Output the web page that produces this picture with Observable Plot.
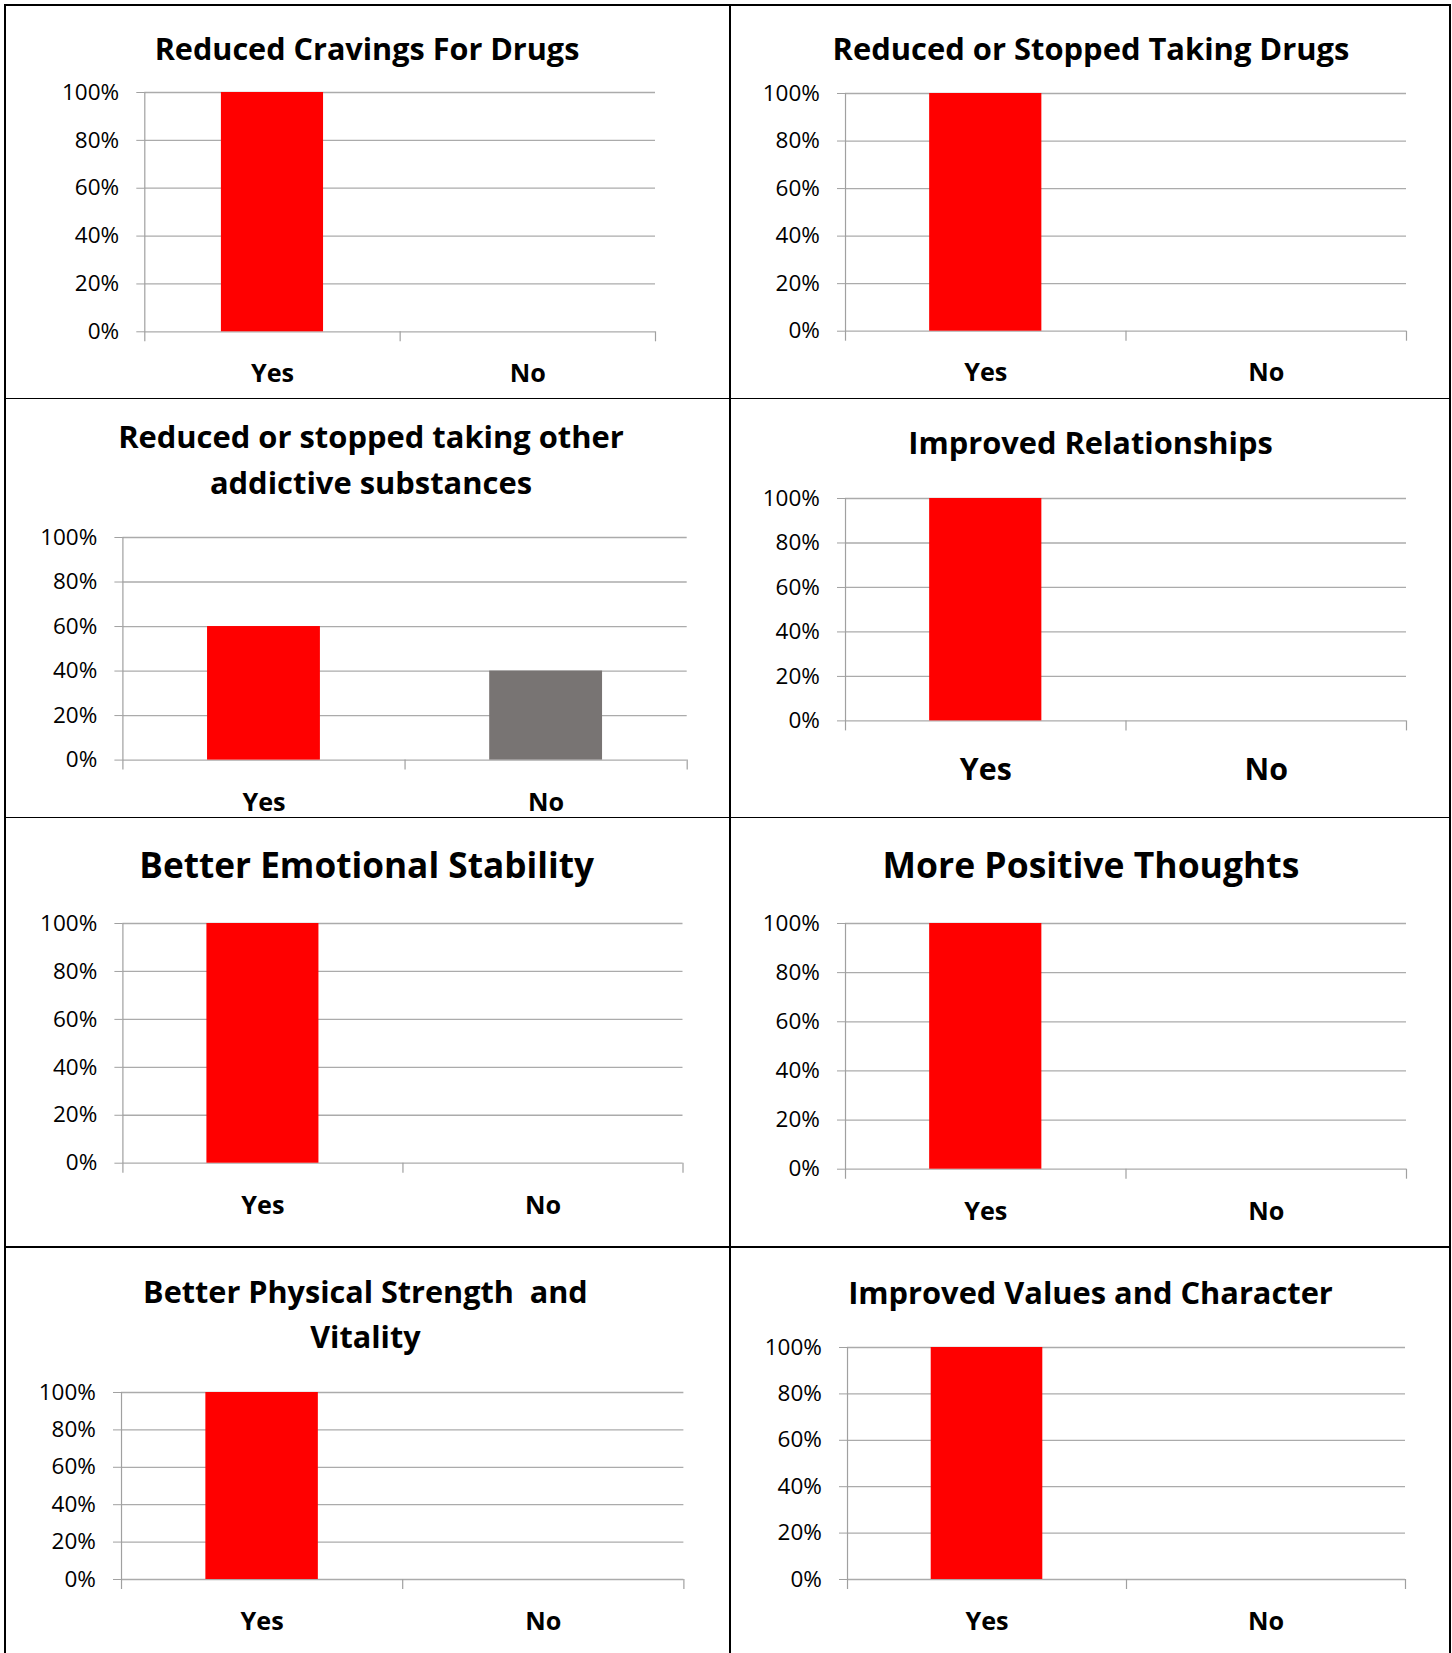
<!DOCTYPE html>
<html>
<head>
<meta charset="utf-8">
<script src="https://cdn.jsdelivr.net/npm/d3@7"></script>
<script src="https://cdn.jsdelivr.net/npm/@observablehq/plot@0.6"></script>
<style>
  html, body { margin: 0; padding: 0; background: #fff; }
  #page { position: relative; width: 1452px; height: 1653px; overflow: hidden; font-family: "Open Sans", sans-serif; background: #fff; }
  .title { position: absolute; font-weight: 700; color: #000; white-space: pre; text-align: center; width: 800px; }
  .rule { position: absolute; background: #000; }
  .chart { position: absolute; }
</style>
</head>
<body>
<div id="page"></div>
<script>
// ---------------- data ----------------
const categories = ["Yes", "No"];
const titles = [
  ["Reduced Cravings For Drugs"],
  ["Reduced or Stopped Taking Drugs"],
  ["Reduced or stopped taking other", "addictive substances"],
  ["Improved Relationships"],
  ["Better Emotional Stability"],
  ["More Positive Thoughts"],
  ["Better Physical Strength  and", "Vitality"],
  ["Improved Values and Character"]
];
const yesShare = [1, 1, 0.6, 1, 1, 1, 1, 1];
const noShare  = [0, 0, 0.4, 0, 0, 0, 0, 0];
const yTicks = [0, 0.2, 0.4, 0.6, 0.8, 1];
const yTickLabels = ["0%", "20%", "40%", "60%", "80%", "100%"];
const categoryColors = ["#ff0000", "#787473"];

// ---------------- layout (page pixels) ----------------
const cells = [{x0: 6, w: 723}, {x0: 731, w: 718}];
const frames = [
  {col: 0, L: 144.3, R: 655,   T: 91.7,   B: 331,    tx: 367,    tb: 61,     tfs: 30.6, tlh: 45.7, lb: 380.7,  lfs: 25.2},
  {col: 1, L: 845,   R: 1406,  T: 93.3,   B: 331,    tx: 1091,   tb: 61,     tfs: 30.9, tlh: 45.7, lb: 380.7,  lfs: 25.2},
  {col: 0, L: 122.4, R: 686.7, T: 536.7,  B: 759.3,  tx: 371,    tb: 449.3,  tfs: 30.9, tlh: 45.7, lb: 810,    lfs: 25.2},
  {col: 1, L: 845,   R: 1406,  T: 498.3,  B: 720.7,  tx: 1090.5, tb: 455,    tfs: 30.8, tlh: 45.7, lb: 780,    lfs: 30.4},
  {col: 0, L: 122.4, R: 682.5, T: 923.3,  B: 1163,   tx: 366.6,  tb: 878.3,  tfs: 35.2, tlh: 45.7, lb: 1213.3, lfs: 25.2},
  {col: 1, L: 845,   R: 1406,  T: 923.3,  B: 1169,   tx: 1091,   tb: 878.3,  tfs: 35.5, tlh: 45.7, lb: 1220,   lfs: 25.2},
  {col: 0, L: 121,   R: 683.4, T: 1392.3, B: 1579.3, tx: 365.4,  tb: 1303.3, tfs: 30.6, tlh: 45,   lb: 1630,   lfs: 25.2},
  {col: 1, L: 847,   R: 1405,  T: 1347.3, B: 1579.3, tx: 1090.5, tb: 1304,   tfs: 30.8, tlh: 45,   lb: 1630,   lfs: 25.2}
];
const gridColor = "#ababab";
const axisColor = "#a0a0a0";
const yFont = 22.5;

const page = document.getElementById("page");

// cell borders
function rule(x, y, w, h) {
  const d = document.createElement("div");
  d.className = "rule";
  Object.assign(d.style, {left: x + "px", top: y + "px", width: w + "px", height: h + "px"});
  page.appendChild(d);
}
rule(4, 4, 1447, 2);
rule(4, 4, 2, 1649);
rule(729, 4, 2, 1649);
rule(1449, 4, 2, 1649);
rule(4, 397.6, 1447, 1.5);
rule(4, 816.8, 1447, 1.5);
rule(4, 1246, 1447, 1.5);

// Open Sans vertical metrics (em)
const ASC = 1.069, CONTENT = 1.362;

frames.forEach((f, i) => {
  // title
  const t = document.createElement("div");
  t.className = "title";
  const lines = titles[i];
  const lh = f.tlh;
  t.style.fontSize = f.tfs + "px";
  t.style.lineHeight = lh + "px";
  t.style.left = (f.tx - 400) + "px";
  t.style.top = (f.tb - ((lh - CONTENT * f.tfs) / 2 + ASC * f.tfs)) + "px";
  t.textContent = lines.join("\n");
  page.appendChild(t);

  // chart
  const cell = cells[f.col];
  const mt = 15;
  const mb = (f.lb - f.B) + 15;
  const width = cell.w;
  const height = mt + (f.B - f.T) + mb;
  const mL = f.L - cell.x0;
  const mR = cell.x0 + cell.w - f.R;
  const quarter = (f.R - f.L) / 4;
  const data = categories.map((c, j) => ({category: c, share: j === 0 ? yesShare[i] : noShare[i]}));

  const svg = Plot.plot({
    width, height,
    marginLeft: mL, marginRight: mR, marginTop: mt, marginBottom: mb,
    style: {fontFamily: "'Open Sans', sans-serif", background: "transparent", overflow: "visible", color: "#000"},
    x: {type: "band", domain: categories, paddingInner: 0.6, paddingOuter: 0.3, align: 0.5, round: false},
    y: {domain: [0, 1]},
    color: {domain: categories, range: categoryColors},
    marks: [
      Plot.ruleY(yTicks, {stroke: gridColor, strokeWidth: 1.3}),
      Plot.barY(data, {x: "category", y: "share", fill: "category"}),
      // vertical axis line (extends down as the first category-boundary tick)
      Plot.ruleX([categories[0]], {x: d => d, y1: 1, y2: 0, dx: -quarter, insetBottom: -10, stroke: axisColor, strokeWidth: 1.2}),
      // category boundary ticks
      Plot.ruleX(categories, {x: d => d, y1: 0, y2: 0, dx: quarter, insetBottom: -10, stroke: axisColor, strokeWidth: 1.2}),
      Plot.axisY(yTicks, {
        tickSize: 8, tickPadding: 17.6, stroke: axisColor, fill: "#000",
        fontSize: yFont, label: null,
        tickFormat: d => yTickLabels[yTicks.indexOf(d)]
      }),
      Plot.axisX({
        tickSize: 0, tickPadding: (f.lb - f.B) - 0.71 * f.lfs,
        fontSize: f.lfs, fontWeight: "bold", fill: "#000", label: null
      })
    ]
  });
  svg.classList.add("chart");
  svg.style.position = "absolute";
  svg.style.left = cell.x0 + "px";
  svg.style.top = (f.T - mt) + "px";
  svg.style.maxWidth = "none";
  page.appendChild(svg);
});
</script>
</body>
</html>
